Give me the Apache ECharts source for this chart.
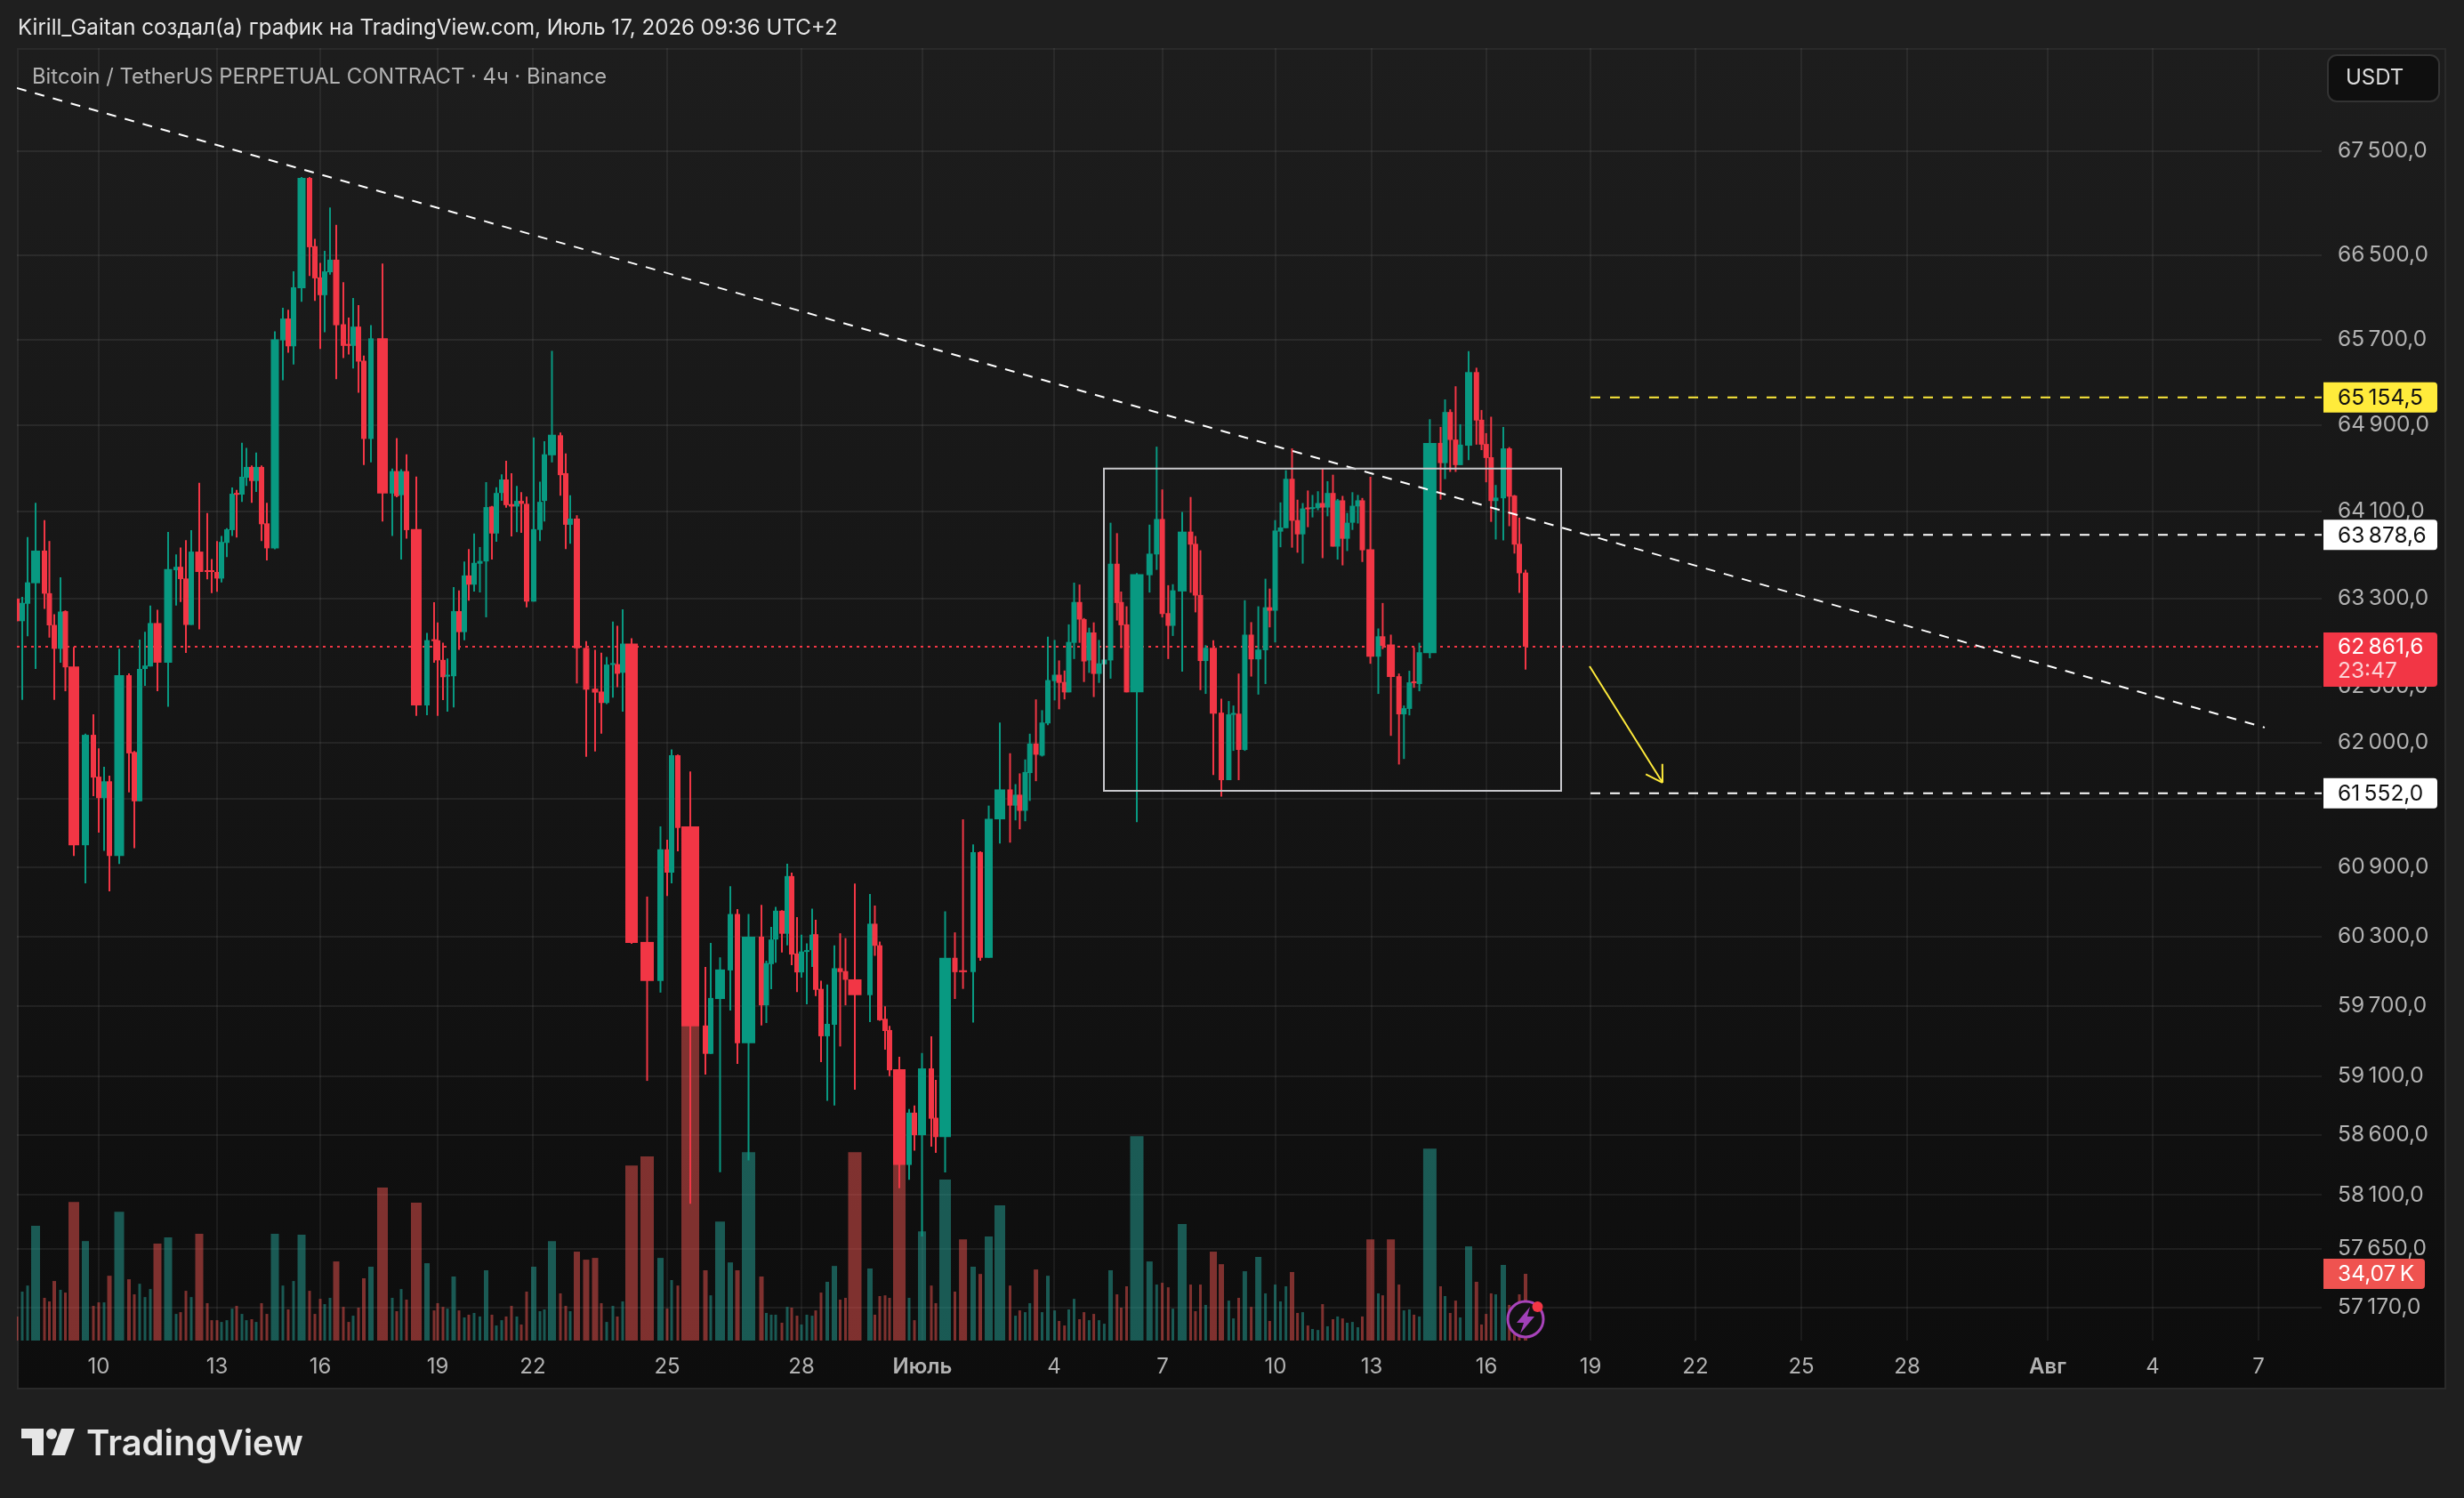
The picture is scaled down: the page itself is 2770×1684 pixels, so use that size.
<!DOCTYPE html>
<html><head><meta charset="utf-8">
<style>
html,body{margin:0;padding:0;background:#1f1f1f;width:2770px;height:1684px;overflow:hidden}
#panel{position:absolute;left:19px;top:54px;width:2731px;height:1508px;box-sizing:border-box;border:2px solid #2a2a2a;background:linear-gradient(#1d1d1d,#0d0d0d)}
#chart{position:absolute;left:0;top:0;width:2770px;height:1684px}
</style>
<script src="https://cdn.jsdelivr.net/npm/echarts@6/dist/echarts.min.js"></script>
</head><body><div id="panel"></div><div id="chart"></div>
<script>
// Equivolume candles: position on the (volume weighted) time axis, width follows volume
const positions=[19,25,31,40,50,55.5,61,68,73.5,83,96,105,111,117,123,134,145,151,157,163,
169,177,189,198,203,209,215,224,233,238,244,249,255,261,266,272,277,283,288,294,
300,309,318,324,330,339,348,354,360,365,371,378,386,392,397,403,409,417,430,441,
446,451,457,468,480,488,492,498,503,510,516,522,527,533,539.5,546.5,553,558,564,569,
575,581,586,592,600,607,612,620.5,630,636,641,648.5,659,669,676,682,689,694,700,710,
727.5,742.5,750,755,762,776,793,799,809.5,821,829,841.5,856,861.5,867,872,879,885,890,896,
901,907,913,917,923,930,938,944.5,950.5,961,978,983.5,989,995,1000,1011,1022,1028,1036.5,1047,
1052,1062.5,1073.5,1082.6,1094,1102,1111.5,1124,1135.5,1141.6,1146.4,1152.5,1157.7,1164.6,1171.5,1178,1185.6,1190.6,1196.7,1201.5,
1207.5,1213.6,1218.6,1224.4,1229.6,1235.5,1241.4,1248.5,1255.7,1260.4,1266.5,1278,1292.3,1300.3,1306.6,1313.3,1318.5,1329,1338.5,1343.9,
1349.5,1355.4,1364,1373,1381.4,1386.6,1392.5,1399.4,1406.6,1414.6,1422.6,1427.4,1433.5,1439.5,1445.6,1452.5,1458.6,1464.5,1470.3,1475.5,
1481.6,1486.8,1492.4,1498.5,1503.7,1509.3,1514.5,1520.4,1526.5,1531.5,1540.6,1549.5,1554.4,1563.6,1572.7,1578.3,1584.4,1589.6,1595.6,1607.4,
1619.5,1624.5,1630.3,1636.4,1641.6,1651,1659.8,1665.5,1670.7,1676.3,1681.5,1690,1696.7,1702.5,1708,1715];
const widths=[3,3,3,10,3,3,4,3,3,12,8,3,3,3,5,11,4,3,3,3,
3,9,9,3,3,3,3,9,3,3,3,3,3,3,3,3,3,3,3,3,
3,9,3,3,3,9,3,3,3,3,3,7,3,3,3,3,4,6,12,3,
3,3,3,12,6,3,3,3,3,5,3,3,3,3,3,5,3,3,3,3,
3,3,3,3,6,3,3,9,3,3,3,7,7,7,3,3,3,3,3,14,
15,7,3,3,3,20,5,3,11,6,5,15,5,3,3,3,3,3,3,3,
3,3,3,3,3,4,6,3,3,15,6,3,3,3,3,14,3,3,9,3,
3,13,3,9,6,4,9,12,3,3,3,3,3,5,3,4,3,3,3,3,
3,3,3,3,3,3,3,5,3,3,3,15,7,3,3,3,3,10,3,3,
3,3,8,6,3,3,3,5,3,7,3,3,3,3,3,5,3,3,3,3,
3,3,3,3,3,3,3,3,3,3,9,3,3,9,3,3,3,3,3,15,
3,3,3,3,3,8,4,3,3,3,3,6,3,3,3,4];
const direction="RGGGRRRGRR"+"GRRGRGRRGG"+"GRGGRRGRRR"+"RGGGRGGRGR"+"RGGRGGRRRG"+"GRRRGRRGRG"+"RGRRGRRRGG"+"RGRGGGRGGR"+"RGRRGGGGRR"+"GRRRRGGRGR"+
"RGRGRRRGGG"+"RGRGGGRGRR"+"GGGRRGGRRR"+"GRRRRRGRGR"+"RGRRGRGGRG"+"RGGRGGGRRG"+"GRRGRGGGRR"+"RGGGRRGGRR"+"RGRRGGRGRG"+"GRGGGRRGRG"+"GRGRGRGGGR"+"RGRRRGGRGG"+"RGRRGGRRRR"+"GGRRRR";
const bodyTop=[63296,63258,63445,63735,63735,63346,63058,63179,63183,62683,62070,62070,61698,61657,61657,62604,62604,61917,62660,62691,
63075,63075,63565,63587,63587,63480,63726,63726,63556,63556,63540,63815,63930,64258,64265,64415,64506,64506,64506,64506,
63985,65700,65896,65896,66193,67241,67241,66585,66287,66344,66456,66456,65842,65656,65820,65820,65498,65709,65709,64467,
64467,64467,64467,63932,62920,62928,62919,62742,62608,63183,63183,63508,63508,63623,63640,64135,64140,64265,64390,64390,
64162,64192,64192,64165,63932,64183,64623,64805,64800,64448,64029,64029,62850,62483,62457,62700,62713,62704,62889,62889,
60250,61057,61057,61888,61888,61259,59531,59767,60012,60492,60492,60296,60296,60067,60271,60521,60521,60823,60823,60150,
60167,60179,60313,60317,59845,59545,60023,60023,59998,59927,60408,60408,60221,59588,59492,59157,58790,58790,59165,59165,
58747,60113,60113,60005,61033,61033,61325,61585,61585,61538,61538,61739,61992,61992,62180,62560,62608,62608,62543,62904,
63266,63266,63110,62990,62990,62711,62745,63615,63615,63266,63063,63519,63707,64025,64025,63165,63372,63909,63909,63797,
63330,62851,62851,62268,62253,62265,62259,62970,62970,62835,63218,63218,63919,63947,64396,64396,64015,64122,64131,64134,
64172,64172,64265,64265,64197,64197,63991,64147,64197,64197,63747,62955,62955,62881,62595,62308,62540,62549,62811,64729,
64729,65017,65017,64760,64713,65391,65391,64945,64719,64596,64222,64678,64678,64241,63797,63534];
const bodyBottom=[63092,63092,63250,63437,63342,63054,62842,62842,62675,61093,61093,61690,61508,61508,60999,60999,61905,61480,61480,62660,
62683,62717,62717,63556,63475,63058,63058,63540,63545,63540,63480,63480,63806,63923,64252,64250,64406,64376,64376,63977,
63756,63756,65690,65634,65634,66184,66575,66278,66118,66118,66336,65833,65638,65638,65638,65490,64766,64766,64260,64260,
64236,64245,63923,62333,62333,62915,62738,62586,62595,62595,62993,62993,63424,63424,63615,63636,63892,63892,64265,64153,
64140,64140,64165,63270,63270,63925,64192,64614,64430,63972,63972,62846,62474,62448,62355,62355,62700,62617,62626,60242,
59913,59913,60853,60853,61245,59523,59289,59289,59758,60004,59380,59380,59704,59704,60058,60271,60321,60321,60141,59987,
59987,60167,60179,59837,59439,59439,59537,59990,59923,59791,59791,60217,59576,59484,59149,58350,58350,58600,58600,58739,
58584,58584,59989,59989,59989,60113,60113,61321,61442,61442,61396,61396,61730,61893,61885,62172,62551,62535,62450,62450,
62896,63107,62728,62737,62616,62616,62702,62737,63257,63055,62450,62450,63510,63700,63157,63050,63050,63362,63790,63325,
62732,62732,62259,61667,61667,62253,61936,61936,62747,62747,62829,63187,63187,63909,63941,64009,63884,63884,64115,64125,
64125,64131,64131,63772,63772,63844,63844,63991,64141,63738,62771,62771,62869,62588,62253,62253,62302,62534,62525,62802,
64542,64542,64757,64523,64523,64703,64938,64713,64589,64191,64191,64216,64231,63790,63528,62861.6];
const highs=[63296,63312,63860,64175,64015,63823,63154,63490,63190,62860,62080,62254,61950,61785,61707,62842,62620,61925,62925,62996,
63233,63196,63906,63700,63764,63830,63923,64360,64079,63658,63823,63870,63940,64315,64293,64730,64683,64520,64640,64520,
64175,65775,65998,65980,66344,67250,67250,66655,66425,66540,66957,66789,66242,65905,66090,66024,65547,65833,66420,64490,
64774,64485,64623,64417,62985,63265,63080,62898,62755,63402,63371,63636,63750,63892,63768,64365,64145,64318,64438,64563,
64448,64330,64272,64232,64780,64370,64745,65591,64825,64632,64243,64060,62911,62833,62807,62768,63089,63050,63200,62937,
60644,61259,61141,61940,61895,61745,60033,60242,60117,60734,60535,60492,60572,60088,60381,60555,60525,60930,60853,60466,
60313,60238,60538,60442,59915,59882,60221,60325,60283,60758,60666,60566,60254,59696,59528,59263,58820,58850,59296,59439,
59068,60516,60333,61321,61100,61040,61442,62180,61906,61632,61727,61851,62080,62387,62290,62952,62922,62737,62646,63063,
63442,63425,63120,63033,63081,62922,62745,63991,63895,63361,63227,63530,63973,64694,64298,63419,63428,64090,64228,63869,
63738,62875,62920,62393,62372,62332,62619,63282,63083,63227,63478,63388,64015,64178,64475,64678,64203,64172,64288,64247,
64281,64488,64374,64434,64210,64238,64081,64272,64247,64219,64415,63026,63257,62970,62619,62332,62644,62854,62897,64950,
64878,65135,65042,65258,64903,65588,65432,65036,64820,64973,64339,64878,64690,64247,64037,63559];
const lows=[63092,62383,62955,62660,63204,62943,62383,62717,62460,60999,60760,61525,61204,61044,60690,60929,61558,61068,61480,62508,
62683,62460,62320,63233,63267,62805,63058,63017,63472,63346,63359,63445,63675,63870,63856,64183,64330,64175,64275,63823,
63645,63748,65315,65573,65463,66055,66300,66064,65610,65767,66313,65324,65524,65557,65425,65197,64523,64549,64003,63870,
64225,63654,63845,62240,62245,62716,62240,62380,62278,62316,62833,62919,63278,63362,63353,63127,63654,63817,64192,64130,
63866,63905,63897,63218,63270,63822,64003,64548,64239,63750,63799,62530,61875,61922,62081,62345,62402,62496,62278,60234,
59059,59813,60649,60760,61040,58026,59112,59289,58289,59659,59203,58388,59531,59552,59842,60071,60158,60221,60050,59817,
59942,59712,60033,59783,59218,58890,58850,59352,59704,58985,59561,60130,59572,59324,59100,58156,58225,58471,57753,58503,
58451,58288,59758,59845,59557,60088,60113,61108,61116,61312,61233,61304,61483,61658,61877,62155,62378,62298,62387,62450,
62750,62896,62543,62625,62408,62535,62702,62573,63098,62848,62450,61296,63352,63559,63126,62750,62958,62637,63350,63172,
62470,62436,61712,61521,61667,61927,61667,61927,62592,62430,62525,63036,62900,63766,63941,63762,63716,63616,63950,64040,
64106,63666,64050,63772,63653,63600,63731,63925,63984,63631,62707,62436,62839,62061,61806,61855,62244,62491,62460,62756,
64203,64393,64460,64460,64523,64570,64713,64662,64364,63999,63837,63828,63959,63708,63350,62655];
const volumesK=[12.3,25,28.1,58.6,21.8,20,30.4,25.9,24.5,70.8,50.8,17.7,19.5,19.5,33.1,65.8,31.3,23.6,29,22.2,
26.3,49.5,52.7,13.6,14.5,25.4,22.2,54.5,19.1,10.4,10.4,9.5,10.4,16.3,17.7,13.6,10.4,10.9,9.5,19.1,
13.6,54.5,28.1,15.9,30.4,54,25.4,13.6,21.3,18.6,21.8,40.4,17.2,9.5,12.7,16.8,31.8,37.7,78.1,21.8,
15,26.3,20.9,70.4,39.5,15.4,19.1,17.2,16.3,32.7,15.4,11.8,13.2,14.1,12.3,35.9,13.2,7.7,10.4,12.3,
17.7,12.3,8.2,25,37.7,15,15.9,50.8,24.1,17.7,15,45.4,41.3,42.2,19.1,9.5,17.7,12.3,20,89.4,
94,42.2,16.3,30.9,28.1,164.3,35.9,23.1,60.8,39.9,35.9,96.2,32.7,14.1,13.2,13.2,9.1,17.2,16.8,12.7,
8.2,13.2,12.7,15.4,24.5,30,38.1,20.9,21.8,96.2,36.8,13.2,22.7,23.1,21.8,91.2,21.8,10.4,55.8,28.1,
19.1,82.2,25,51.7,37.7,34,53.1,69,28.1,12.7,15.4,14.5,19.1,36.3,14.5,33.1,15.4,10,7.7,15.9,
21.3,10.9,14.5,10.4,13.6,10.4,8.6,35.9,23.6,16.8,27.7,104.4,40.4,28.6,29.5,27.2,16.3,59.5,28.6,15,
28.6,18.2,45.4,39,20.4,11.3,21.8,35.4,17.2,42.7,24.1,10,28.6,20,27.7,35,14.1,14.5,7.7,5.9,
5.4,18.6,7.3,10.9,12.3,11.3,9.1,9.5,6.8,12.3,51.7,24.1,23.1,51.7,28.6,15.4,15.9,13.2,12.3,98,
27.7,22.7,14.1,20.4,11.8,48.1,30,8.2,13.6,24.1,23.6,38.6,18.2,10.7,23.6,34.07];
const priceTicks=[67500,66500,65700,64900,64100,63300,62500,62000,61500,60900,60300,59700,59100,58600,58100,57650,57170];
const timeTickPos=[111,244,360,492,599,750,901,1037,1185,1307,1434,1542,1671,1788,1906,2025,2144,2302,2420,2539];
const timeTickLabels=["10","13","16","19","22","25","28","Июль","4","7","10","13","16","19","22","25","28","Авг","4","7"];
const lastPrice=62861.6, targetHigh=65154.5, targetMid=63878.6, targetLow=61552.0;
const trendLine=[19,68115,2546,62135];
const boxZone=[1241,64490,1755,61573];
const arrowLine=[1787,62685,1869,61645];
const levelStart=1788, axisEnd=2610;

const GREEN='#089981',RED='#f23645';
const FONT='Inter, "Noto Sans", sans-serif';
const fmtPrice=v=>{const s=Math.round(v*10)/10,k=Math.floor(s/1000),r=s-k*1000;
  return k+'\u202f'+String(Math.floor(r)).padStart(3,'0')+','+Math.round((r-Math.floor(r))*10);};

const candleData=positions.map((x,i)=>{const up=direction[i]==='G';
  return [x,up?bodyBottom[i]:bodyTop[i],highs[i],lows[i],up?bodyTop[i]:bodyBottom[i],widths[i],up?1:0];});
const volumeData=positions.map((x,i)=>[x,volumesK[i],widths[i],direction[i]==='G'?1:0]);

const candleRender=(p,api)=>{
  const x=api.value(0),o=api.value(1),h=api.value(2),l=api.value(3),c=api.value(4),w=api.value(5),up=api.value(6);
  const col=up?GREEN:RED;
  const xc=api.coord([x,o])[0];
  const bw=Math.max(6,api.size([w,0])[0]);
  const yo=api.coord([x,o])[1],yc=api.coord([x,c])[1],yh=api.coord([x,h])[1],yl=api.coord([x,l])[1];
  const top=Math.min(yo,yc),ht=Math.max(2,Math.abs(yo-yc));
  return {type:'group',children:[
    {type:'rect',shape:{x:xc-1,y:yh,width:2,height:Math.max(1,yl-yh)},style:{fill:col}},
    {type:'rect',shape:{x:xc-bw/2,y:top,width:bw,height:ht},style:{fill:col}}]};
};
const volumeRender=(p,api)=>{
  const x=api.value(0),v=api.value(1),w=api.value(2),up=api.value(3);
  const a=api.coord([x,v]),b=api.coord([x,0]),bw=api.size([w,0])[0];
  return {type:'rect',shape:{x:a[0]-bw/2,y:a[1],width:bw,height:b[1]-a[1]},
    style:{fill:up?'rgba(38,166,154,0.5)':'rgba(239,83,80,0.5)'}};
};
const lineSeries=(name,z,rows,style)=>({type:'custom',name,silent:true,z,clip:true,coordinateSystem:'cartesian2d',
  data:rows,encode:{x:0,y:1},renderItem:(p,api)=>{
    const a=api.coord([api.value(0),api.value(1)]),b=api.coord([api.value(2),api.value(3)]);
    return {type:'line',shape:{x1:a[0],y1:a[1],x2:b[0],y2:b[1]},style:Object.assign({fill:null},style)};}});

const tagRender=rows=>(p,api)=>{
  const r=rows[p.dataIndex],yy=api.coord([axisEnd,api.value(1)])[1],kids=[
   {type:'rect',shape:{x:2612,y:yy-r.up,width:r.w,height:r.up+r.down,r:[0,4,4,0]},style:{fill:r.bg}},
   {type:'text',style:{x:2628,y:yy+1,text:r.text,fill:r.fg,font:'24.5px '+FONT,verticalAlign:'middle'}}];
  if(r.sub)kids.push({type:'text',style:{x:2628,y:yy+28,text:r.sub,fill:'rgba(255,255,255,0.78)',font:'24.5px '+FONT,verticalAlign:'middle'}});
  return {type:'group',children:kids};
};
const priceTags=[
 {price:targetHigh,text:fmtPrice(targetHigh),bg:'#ffeb3b',fg:'#111',w:128,up:17,down:17},
 {price:targetMid,text:fmtPrice(targetMid),bg:'#ffffff',fg:'#111',w:128,up:17,down:17},
 {price:targetLow,text:fmtPrice(targetLow),bg:'#ffffff',fg:'#111',w:128,up:17,down:17},
 {price:lastPrice,text:fmtPrice(lastPrice),sub:'23:47',bg:RED,fg:'#fff',w:128,up:16,down:45}];
const volTags=[{price:volumesK[volumesK.length-1],text:'34,07\u202fK',bg:'#ef5350',fg:'#fff',w:114,up:17,down:17}];

const chart=echarts.init(document.getElementById('chart'),null,{renderer:'canvas',width:2770,height:1684});
chart.setOption({
 backgroundColor:'transparent',animation:false,
 grid:{left:19,right:160,top:54,bottom:177},
 xAxis:{type:'value',min:19,max:2610,
   axisLine:{show:false},
   axisTick:{show:false,customValues:timeTickPos},
   splitLine:{show:true,lineStyle:{color:'rgba(255,255,255,0.06)',width:2}},
   axisLabel:{customValues:timeTickPos,margin:18,hideOverlap:false,showMinLabel:true,showMaxLabel:true,
     color:'#b2b2b2',fontFamily:'Inter',fontSize:24,
     formatter:v=>{const l=timeTickLabels[timeTickPos.indexOf(Math.round(v))];return /[А-я]/.test(l)?'{b|'+l+'}':l;},
     rich:{b:{fontFamily:'Inter',fontSize:24,fontWeight:600,color:'#b2b2b2'}}}},
 yAxis:[
  {type:'log',position:'right',min:56896,max:68508,
   axisLine:{show:false},
   axisTick:{show:false,customValues:priceTicks},
   splitLine:{show:true,lineStyle:{color:'rgba(255,255,255,0.07)',width:2}},
   axisLabel:{customValues:priceTicks,margin:18,padding:[2,0,0,0],color:'#b2b2b2',fontFamily:'Inter',fontSize:24.5,hideOverlap:false,
     showMinLabel:true,showMaxLabel:true,formatter:v=>fmtPrice(Math.round(v))}},
  {type:'value',min:0,max:660,show:false,splitLine:{show:false},axisLabel:{show:false},axisTick:{show:false},axisLine:{show:false}}
 ],
 series:[
  {type:'custom',name:'Volume',silent:true,yAxisIndex:1,z:1,clip:true,data:volumeData,encode:{x:0,y:1},renderItem:volumeRender},
  lineSeries('Last price',2,[[19,lastPrice,axisEnd,lastPrice]],{stroke:RED,lineWidth:2,lineDash:[3,5]}),
  {type:'custom',name:'BTCUSDT.P',silent:true,z:3,clip:true,data:candleData,encode:{x:0,y:[1,2,3,4]},renderItem:candleRender},
  lineSeries('Trend',5,[trendLine],{stroke:'#ffffff',lineWidth:2,lineDash:[11,10]}),
  lineSeries('Levels yellow',5,[[levelStart,targetHigh,axisEnd,targetHigh]],{stroke:'#ffeb3b',lineWidth:2,lineDash:[11,11]}),
  lineSeries('Levels white',5,[[levelStart,targetMid,axisEnd,targetMid],[levelStart,targetLow,axisEnd,targetLow]],{stroke:'#ffffff',lineWidth:2,lineDash:[11,11]}),
  {type:'custom',name:'Zone',silent:true,z:5,clip:true,data:[boxZone],encode:{x:0,y:1},renderItem:(p,api)=>{
     const a=api.coord([api.value(0),api.value(1)]),b=api.coord([api.value(2),api.value(3)]);
     return {type:'rect',shape:{x:a[0],y:a[1],width:b[0]-a[0],height:b[1]-a[1]},style:{fill:'rgba(0,0,0,0)',stroke:'#c8c8cc',lineWidth:2}};}},
  {type:'custom',name:'Arrow',silent:true,z:5,clip:true,data:[arrowLine],encode:{x:0,y:1},renderItem:(p,api)=>{
     const a=api.coord([api.value(0),api.value(1)]),b=api.coord([api.value(2),api.value(3)]);
     const ang=Math.atan2(b[1]-a[1],b[0]-a[0]),L=21,st={stroke:'#ffeb3b',lineWidth:2,fill:null};
     const leg=d=>({type:'line',shape:{x1:b[0],y1:b[1],x2:b[0]-L*Math.cos(ang+d),y2:b[1]-L*Math.sin(ang+d)},style:st});
     return {type:'group',children:[{type:'line',shape:{x1:a[0],y1:a[1],x2:b[0],y2:b[1]},style:st},leg(0.55),leg(-0.55)]};}},
  {type:'custom',name:'Price tags',silent:true,z:10,clip:false,data:priceTags.map(r=>[axisEnd,r.price]),encode:{x:0,y:1},renderItem:tagRender(priceTags)},
  {type:'custom',name:'Volume tag',silent:true,z:10,clip:false,yAxisIndex:1,data:volTags.map(r=>[axisEnd,r.price]),encode:{x:0,y:1},renderItem:tagRender(volTags)}
 ],
 graphic:[
  {type:'text',z:20,style:{x:20,y:32,text:'Kirill_Gaitan создал(а) график на TradingView.com, Июль 17, 2026 09:36 UTC+2',fill:'#e6e6e6',font:'24.1px '+FONT,verticalAlign:'middle'}},
  {type:'text',z:20,style:{x:36,y:86.5,text:'Bitcoin / TetherUS PERPETUAL CONTRACT · 4ч · Binance',fill:'#b2b2b2',font:'23.8px '+FONT,verticalAlign:'middle'}},
  {type:'rect',z:20,shape:{x:2617,y:62,width:125,height:52,r:10},style:{fill:'#0f0f0f',stroke:'#333',lineWidth:2}},
  {type:'text',z:21,style:{x:2637,y:88,text:'USDT',fill:'#dddddd',font:'24px '+FONT,verticalAlign:'middle'}},
  {type:'text',z:20,style:{x:97,y:1624,text:'TradingView',fill:'#e6e6e6',font:'600 40px '+FONT,verticalAlign:'middle'}},
  {type:'polygon',z:20,shape:{points:[[24,1606],[49,1606],[49,1636],[36,1636],[36,1617],[24,1617]]},style:{fill:'#e6e6e6'}},
  {type:'circle',z:20,shape:{cx:58,cy:1612,r:6},style:{fill:'#e6e6e6'}},
  {type:'polygon',z:20,shape:{points:[[69,1606],[84,1606],[73,1636],[58,1636]]},style:{fill:'#e6e6e6'}},
  {type:'circle',z:20,shape:{cx:1715,cy:1483,r:20},style:{fill:'#111111',stroke:'#a843ba',lineWidth:3}},
  {type:'polygon',z:21,shape:{points:[[1720,1469],[1705,1487],[1713,1487],[1709,1499],[1725,1480],[1717,1480]]},style:{fill:'#a040b8'}},
  {type:'circle',z:21,shape:{cx:1728.5,cy:1469,r:6},style:{fill:RED}}
 ]
});
</script></body></html>
